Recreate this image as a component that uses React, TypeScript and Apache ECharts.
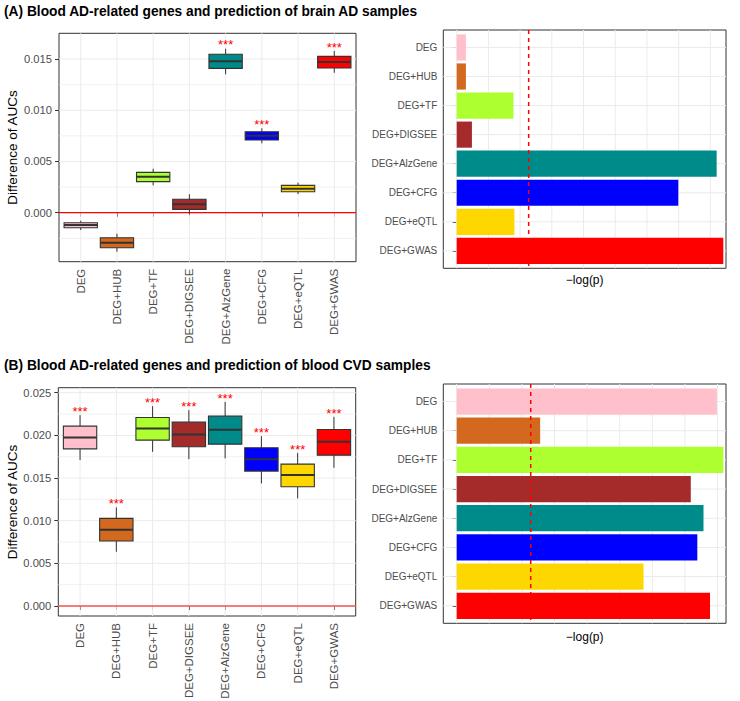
import React, { useEffect, useRef } from 'react';
import * as echarts from 'echarts';

const categories = ['DEG', 'DEG+HUB', 'DEG+TF', 'DEG+DIGSEE', 'DEG+AlzGene', 'DEG+CFG', 'DEG+eQTL', 'DEG+GWAS'];
const fillColors = ['#FFC0CB', '#D2691E', '#ADFF2F', '#A52A2A', '#008B8B', '#0000FF', '#FFD700', '#FF0000'];
const catPositions = [1, 2, 3, 4, 5, 6, 7, 8];

// (A) brain AD samples: difference of AUCs (box stats)
const brainMin = [-0.00169, -0.00381, 0.00267, -0.00016, 0.01351, 0.00677, 0.00182, 0.01366];
const brainQ1 = [-0.00146, -0.00342, 0.00303, 0.00033, 0.01409, 0.00709, 0.00205, 0.01412];
const brainMedian = [-0.0012, -0.00293, 0.00351, 0.00082, 0.01478, 0.00751, 0.00234, 0.01471];
const brainQ3 = [-0.00098, -0.00244, 0.00394, 0.00131, 0.01546, 0.0079, 0.00267, 0.01526];
const brainMax = [-0.00078, -0.00205, 0.00429, 0.0018, 0.016, 0.00824, 0.00293, 0.01578];
const brainSig = [0, 0, 0, 0, 1, 1, 0, 1];
const brainLogP = [0.29, 0.29, 1.79, 0.48, 8.2, 6.99, 1.82, 8.41];

// (B) blood CVD samples
const cvdMin = [0.0171, 0.00636, 0.01807, 0.01721, 0.0173, 0.01437, 0.01261, 0.0162];
const cvdQ1 = [0.01842, 0.00761, 0.01944, 0.01866, 0.01897, 0.01581, 0.01397, 0.01768];
const cvdMedian = [0.01975, 0.00894, 0.02081, 0.0201, 0.02065, 0.01721, 0.01534, 0.01924];
const cvdQ3 = [0.02108, 0.01027, 0.0221, 0.02155, 0.02225, 0.01854, 0.01663, 0.02069];
const cvdMax = [0.02237, 0.01156, 0.02342, 0.02295, 0.02392, 0.01991, 0.01795, 0.02217];
const cvdSig = [1, 1, 1, 1, 1, 1, 1, 1];
const cvdLogP = [7.98, 2.56, 8.18, 7.18, 7.57, 7.38, 5.73, 7.77];

const logPThreshold = 2.27;

const brainYTicks = [0, 0.005, 0.01, 0.015];
const brainYMinor = [-0.0025, 0.0025, 0.0075, 0.0125];
const cvdYTicks = [0, 0.005, 0.01, 0.015, 0.02, 0.025];
const cvdYMinor = [0.0025, 0.0075, 0.0125, 0.0175, 0.0225];
const logPGrid = [0, 1, 2, 3, 4, 5, 6, 7, 8];

const FONT = '"Liberation Sans", Arial, Helvetica, sans-serif';
const GRID_COLOR = '#EBEBEB';
const TICK_TEXT = '#4D4D4D';
const DARK = '#333333';

const panels = [
  { left: 59, top: 33.3, width: 297, height: 228.4, xMin: 0.4, xMax: 8.6, yMin: -0.00478, yMax: 0.01751 },
  { left: 443.3, top: 30, width: 282.7, height: 238.3, xMin: -0.423, xMax: 8.495, yMin: 0.4, yMax: 8.6 },
  { left: 58.3, top: 387.7, width: 297.4, height: 228.3, xMin: 0.4, xMax: 8.6, yMin: -0.001172, yMax: 0.025586 },
  { left: 443.3, top: 384, width: 282.7, height: 239.3, xMin: -0.411, xMax: 8.26, yMin: 0.4, yMax: 8.6 },
];

function hLines(g: number, values: number[], xRef: number, color: string, width: number, z: number) {
  return {
    type: 'custom', xAxisIndex: g, yAxisIndex: g, z, silent: true,
    data: values.map((v) => [xRef, v]),
    renderItem: (params: any, api: any) => {
      const cs = params.coordSys;
      const p = api.coord([api.value(0), api.value(1)]);
      return { type: 'line', shape: { x1: cs.x, y1: p[1], x2: cs.x + cs.width, y2: p[1] }, style: { stroke: color, lineWidth: width } };
    },
  };
}

function vLines(g: number, values: number[], yRef: number, color: string, width: number, z: number, dash?: number[]) {
  return {
    type: 'custom', xAxisIndex: g, yAxisIndex: g, z, silent: true,
    data: values.map((v) => [v, yRef]),
    renderItem: (params: any, api: any) => {
      const cs = params.coordSys;
      const p = api.coord([api.value(0), api.value(1)]);
      const style: any = { stroke: color, lineWidth: width };
      if (dash) style.lineDash = dash;
      return { type: 'line', shape: { x1: p[0], y1: cs.y, x2: p[0], y2: cs.y + cs.height }, style };
    },
  };
}

function boxSeries(g: number, lo: number[], q1: number[], med: number[], q3: number[], hi: number[], sig: number[], starGap: number) {
  return {
    type: 'custom', xAxisIndex: g, yAxisIndex: g, z: 3, silent: true,
    data: catPositions.map((x, i) => [x, lo[i], q1[i], med[i], q3[i], hi[i], sig[i], i]),
    renderItem: (params: any, api: any) => {
      const x = api.value(0);
      const pLo = api.coord([x, api.value(1)]);
      const pQ1 = api.coord([x, api.value(2)]);
      const pMed = api.coord([x, api.value(3)]);
      const pQ3 = api.coord([x, api.value(4)]);
      const pHi = api.coord([x, api.value(5)]);
      const idx = api.value(7);
      const w = api.size([0.92, 0])[0];
      const children: any[] = [
        { type: 'line', shape: { x1: pHi[0], y1: pHi[1], x2: pQ3[0], y2: pQ3[1] }, style: { stroke: DARK, lineWidth: 1 } },
        { type: 'line', shape: { x1: pQ1[0], y1: pQ1[1], x2: pLo[0], y2: pLo[1] }, style: { stroke: DARK, lineWidth: 1 } },
        { type: 'rect', shape: { x: pMed[0] - w / 2, y: pQ3[1], width: w, height: pQ1[1] - pQ3[1] }, style: { fill: fillColors[idx], stroke: DARK, lineWidth: 1.1 } },
        { type: 'line', shape: { x1: pMed[0] - w / 2, y1: pMed[1], x2: pMed[0] + w / 2, y2: pMed[1] }, style: { stroke: DARK, lineWidth: 2 } },
      ];
      if (api.value(6)) {
        const pStar = api.coord([x, api.value(5) + starGap]);
        children.push({
          type: 'text', x: pStar[0], y: pStar[1] + 3,
          style: { text: '***', fill: '#FF0000', fontSize: 13, fontFamily: FONT, align: 'center', verticalAlign: 'middle' },
        });
      }
      return { type: 'group', children };
    },
  };
}

function barSeries(g: number, values: number[]) {
  return {
    type: 'custom', xAxisIndex: g, yAxisIndex: g, z: 3, silent: true,
    data: catPositions.map((y, i) => [values[i], y, i]),
    renderItem: (params: any, api: any) => {
      const y = api.value(1);
      const start = api.coord([0, y]);
      const end = api.coord([api.value(0), y]);
      const h = api.size([0, 0.9])[1];
      return { type: 'rect', shape: { x: start[0], y: start[1] - h / 2, width: end[0] - start[0], height: h }, style: { fill: fillColors[api.value(2)] } };
    },
  };
}

function boxAxes(g: number, yTicks: number[]) {
  const p = panels[g];
  const x = {
    gridIndex: g, type: 'value', min: p.xMin, max: p.xMax,
    axisLine: { show: false }, splitLine: { show: false },
    axisTick: { show: true, customValues: catPositions, length: 4, lineStyle: { color: DARK, width: 1 } },
    axisLabel: { show: true, customValues: catPositions, formatter: (v: number) => categories[Math.round(v) - 1], rotate: 90, margin: 7, fontSize: 11.5, color: TICK_TEXT, fontFamily: FONT },
  };
  const y = {
    gridIndex: g, type: 'value', min: p.yMin, max: p.yMax,
    axisLine: { show: false }, splitLine: { show: false },
    axisTick: { show: true, customValues: yTicks, length: 4, lineStyle: { color: DARK, width: 1 } },
    axisLabel: { show: true, customValues: yTicks, formatter: (v: number) => v.toFixed(3), margin: 7, fontSize: 11.2, color: TICK_TEXT, fontFamily: FONT },
  };
  return { x, y };
}

function barAxes(g: number) {
  const p = panels[g];
  const x = {
    gridIndex: g, type: 'value', min: p.xMin, max: p.xMax,
    axisLine: { show: false }, splitLine: { show: false }, axisTick: { show: false }, axisLabel: { show: false },
  };
  const y = {
    gridIndex: g, type: 'value', min: p.yMin, max: p.yMax, inverse: true,
    axisLine: { show: false }, splitLine: { show: false },
    axisTick: { show: true, customValues: catPositions, length: 4, lineStyle: { color: DARK, width: 1 } },
    axisLabel: { show: true, customValues: catPositions, formatter: (v: number) => categories[Math.round(v) - 1], margin: 6, fontSize: 10, color: TICK_TEXT, fontFamily: FONT },
  };
  return { x, y };
}

export default function App() {
  const ref = useRef<HTMLDivElement>(null);
  useEffect(() => {
    if (!ref.current) return;
    const chart = echarts.init(ref.current, undefined, { renderer: 'svg' });
    const a0 = boxAxes(0, brainYTicks);
    const a1 = barAxes(1);
    const a2 = boxAxes(2, cvdYTicks);
    const a3 = barAxes(3);
    const option: any = {
      animation: false,
      backgroundColor: '#FFFFFF',
      grid: panels.map((p) => ({
        left: p.left, top: p.top, width: p.width, height: p.height,
        show: true, borderColor: DARK, borderWidth: 1, backgroundColor: 'transparent',
        containLabel: false, outerBoundsMode: 'none',
      })),
      xAxis: [a0.x, a1.x, a2.x, a3.x],
      yAxis: [a0.y, a1.y, a2.y, a3.y],
      series: [
        // panel A box
        hLines(0, brainYMinor, 1, GRID_COLOR, 0.7, 1),
        hLines(0, brainYTicks, 1, GRID_COLOR, 1, 1),
        vLines(0, catPositions, 0, GRID_COLOR, 1, 1),
        hLines(0, [0], 1, '#FF0000', 1.2, 2),
        boxSeries(0, brainMin, brainQ1, brainMedian, brainQ3, brainMax, brainSig, 0.00067),
        // panel A bars
        vLines(1, logPGrid, 1, GRID_COLOR, 1, 1),
        hLines(1, catPositions, 0, GRID_COLOR, 1, 1),
        barSeries(1, brainLogP),
        vLines(1, [logPThreshold], 1, '#FF0000', 1.5, 4, [4, 4]),
        // panel B box
        hLines(2, cvdYMinor, 1, GRID_COLOR, 0.7, 1),
        hLines(2, cvdYTicks, 1, GRID_COLOR, 1, 1),
        vLines(2, catPositions, 0.01, GRID_COLOR, 1, 1),
        hLines(2, [0], 1, '#FF0000', 1.2, 2),
        boxSeries(2, cvdMin, cvdQ1, cvdMedian, cvdQ3, cvdMax, cvdSig, 0.00079),
        // panel B bars
        vLines(3, logPGrid, 1, GRID_COLOR, 1, 1),
        hLines(3, catPositions, 0, GRID_COLOR, 1, 1),
        barSeries(3, cvdLogP),
        vLines(3, [logPThreshold], 1, '#FF0000', 1.5, 4, [4, 4]),
      ],
      graphic: [
        { type: 'text', x: 4, y: 11.7, style: { text: '(A) Blood AD-related genes and prediction of brain AD samples', fontSize: 13.75, fontWeight: 'bold', fontFamily: FONT, fill: '#000', align: 'left', verticalAlign: 'middle' } },
        { type: 'text', x: 4, y: 365, style: { text: '(B) Blood AD-related genes and prediction of blood CVD samples', fontSize: 13.75, fontWeight: 'bold', fontFamily: FONT, fill: '#000', align: 'left', verticalAlign: 'middle' } },
        { type: 'text', x: 12, y: 147.5, rotation: Math.PI / 2, style: { text: 'Difference of AUCs', fontSize: 13.5, fontFamily: FONT, fill: '#000', align: 'center', verticalAlign: 'middle' } },
        { type: 'text', x: 12, y: 501.9, rotation: Math.PI / 2, style: { text: 'Difference of AUCs', fontSize: 13.5, fontFamily: FONT, fill: '#000', align: 'center', verticalAlign: 'middle' } },
        { type: 'text', x: 584.7, y: 280, style: { text: '\u2212log(p)', fontSize: 12, fontFamily: FONT, fill: '#000', align: 'center', verticalAlign: 'middle' } },
        { type: 'text', x: 584.7, y: 636.7, style: { text: '\u2212log(p)', fontSize: 12, fontFamily: FONT, fill: '#000', align: 'center', verticalAlign: 'middle' } },
      ],
    };
    chart.setOption(option);
    return () => chart.dispose();
  }, []);
  return <div ref={ref} style={{ position: 'absolute', left: 0, top: 0, width: 740, height: 701, background: '#fff' }} />;
}
